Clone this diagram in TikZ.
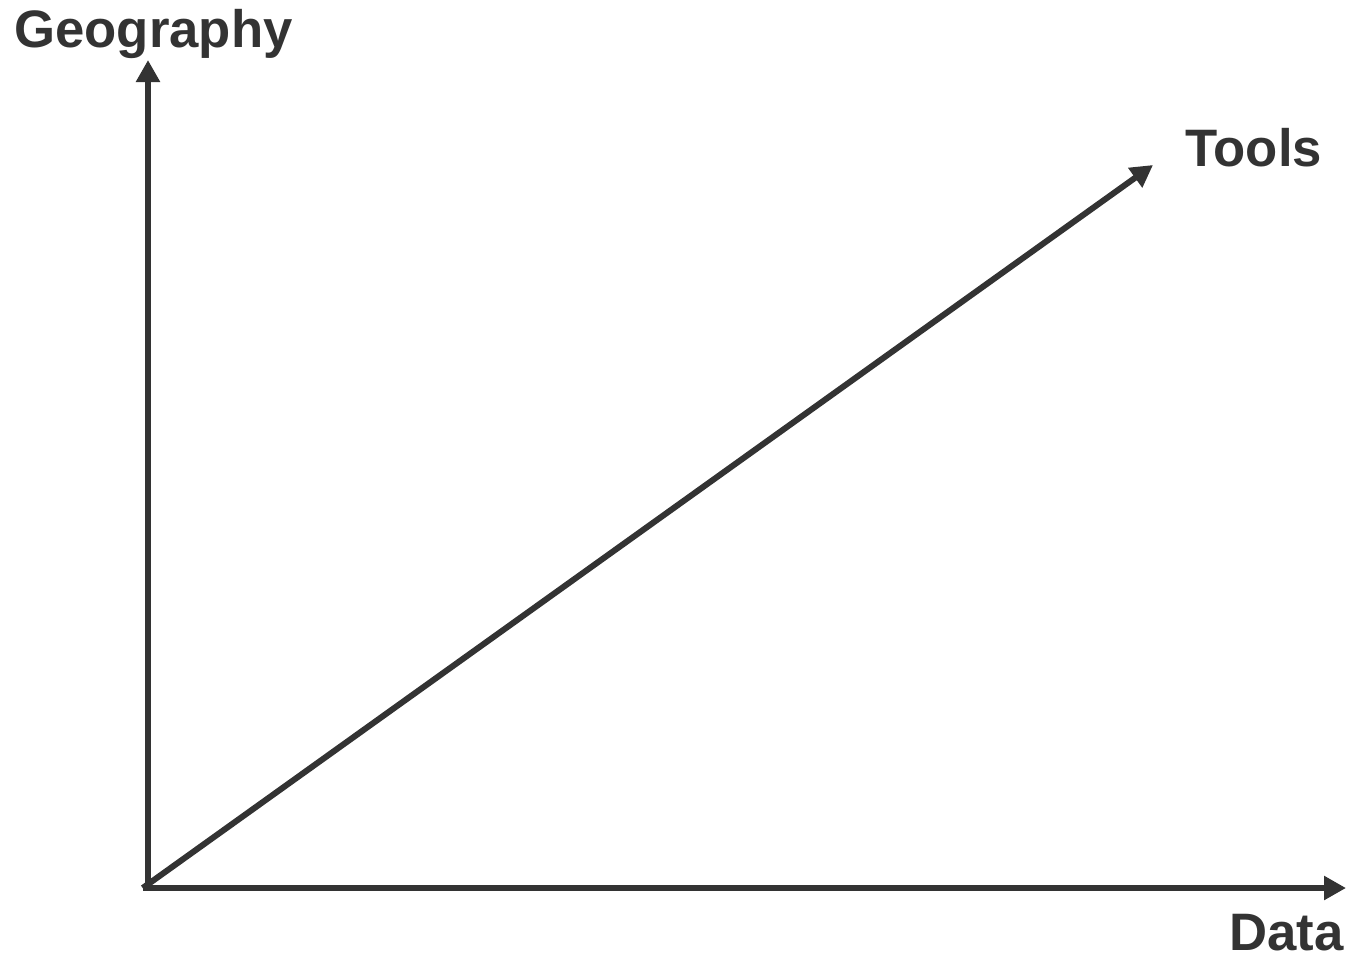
\documentclass[tikz,border=0pt]{standalone}
\usepackage{fontspec}
\setmainfont{Liberation Sans}
\usetikzlibrary{arrows.meta}

\definecolor{axisgray}{HTML}{333333}

\begin{document}
\begin{tikzpicture}[x=0.02cm,y=-0.02cm]
    \useasboundingbox (0,0) rectangle (1351,958);
    \tikzset{axis/.style={-{Triangle[length=0.44cm,width=0.46cm]},axisgray,line width=0.12cm},
             lbl/.style={font=\fontsize{30}{36}\selectfont\bfseries,text=axisgray,inner sep=0pt}}

    \coordinate (o) at (148,888);
    \coordinate (g) at (148,60);
    \coordinate (d) at (1346,888);
    \coordinate (t) at (1153,165);

    \node[lbl,anchor=base west] (geo) at (14,47) {Geography};
    \node[lbl,anchor=base west] (tools) at (1185,166) {Tools};
    \node[lbl,anchor=base east] (data) at (1344,950) {Data};

    \draw[axis] (o) -- (g);
    \draw[axis] ([xshift=-3]o) -- (d);
    \draw[axis] ([xshift=-3]o) -- (t);
\end{tikzpicture}
\end{document}
